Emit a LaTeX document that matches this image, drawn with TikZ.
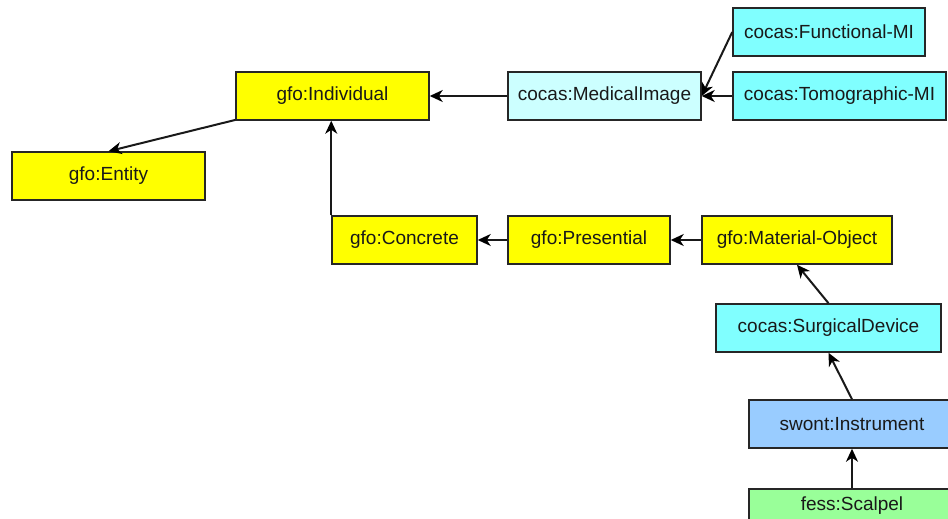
\documentclass[tikz,border=0pt]{standalone}
\usepackage{fontspec}
\setmainfont{Liberation Sans}
\usetikzlibrary{arrows.meta}

\definecolor{gfoyellow}{RGB}{255,255,0}
\definecolor{cocascyan}{RGB}{128,255,255}
\definecolor{cocaslight}{RGB}{204,255,255}
\definecolor{swontblue}{RGB}{153,204,255}
\definecolor{fessgreen}{RGB}{153,255,153}

\begin{document}
\begin{tikzpicture}[x=1pt,y=-1pt,
              every node/.style={rectangle,draw=black!85,line width=1.5pt,
                minimum height=48pt,inner sep=0pt,text=black!90,
                font=\fontsize{19}{22}\selectfont},
              gfo/.style={fill=gfoyellow},
              cocas/.style={fill=cocascyan},
              >={Stealth[black,length=13pt,width=12pt,inset=4pt]},
              every edge/.style={draw=black!90,line width=2pt}]
    \clip (0,0) rectangle (948,519);

    \node[gfo,minimum width=193pt] (ent) at (108.5,176) {gfo:Entity};
    \node[gfo,minimum width=193pt] (ind) at (332.5,96) {gfo:Individual};
    \node[fill=cocaslight,minimum width=193pt] (med) at (604.5,96) {cocas:MedicalImage};
    \node[cocas,minimum width=192pt] (func) at (829,32) {cocas:Functional-MI};
    \node[cocas,minimum width=213pt] (tomo) at (839.5,96) {cocas:Tomographic-MI};

    \node[gfo,minimum width=145pt] (conc) at (404.5,240) {gfo:Concrete};
    \node[gfo,minimum width=162pt] (pres) at (589,240) {gfo:Presential};
    \node[gfo,minimum width=190pt] (mat) at (797,240) {gfo:Material-Object};

    \node[cocas,minimum width=225pt] (surg) at (828.5,328) {cocas:SurgicalDevice};
    \node[fill=swontblue,minimum width=206pt] (instr) at (852,424) {swont:Instrument};
    \node[fill=fessgreen,minimum width=206pt,minimum height=34pt] (scal) at (852,506) {fess:Scalpel};

    \path [->] (ind) edge (ent.north);
    \path [->] (med) edge (ind);
    \path [->] (func.west) edge (med.east);
    \path [->] (tomo) edge (med);
    \path [->] (conc.north west) edge (conc.north west |- ind.south);
    \path [->] (pres) edge (conc);
    \path [->] (mat) edge (pres);
    \path [->] (surg.north) edge (mat.south);
    \path [->] (instr.north) edge (surg.south);
    \path [->] (scal) edge (instr);
\end{tikzpicture}
\end{document}
